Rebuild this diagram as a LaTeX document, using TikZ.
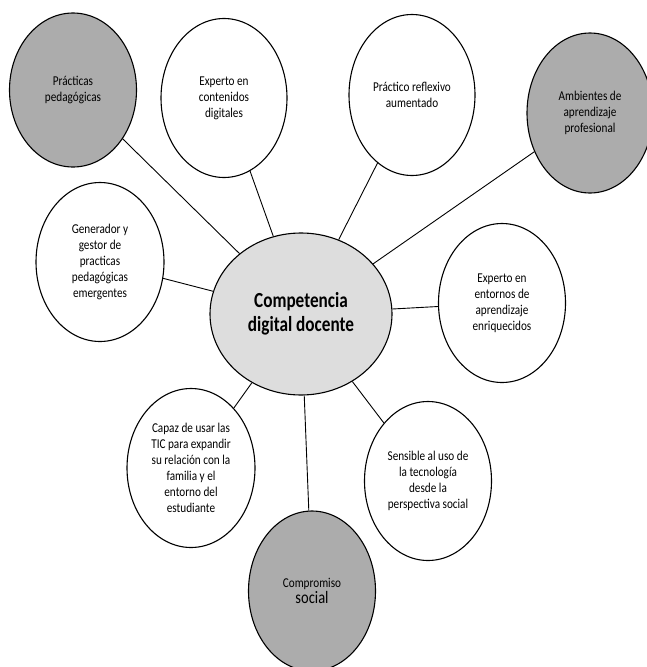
\documentclass[tikz,border=0pt]{standalone}
\usepackage{fontspec}
\setmainfont{Carlito}
\newfontfamily\narrowfont[FakeStretch=0.83]{Carlito}
\newfontfamily\hubfont[FakeStretch=0.8]{Carlito}
\usetikzlibrary{shapes.geometric}
\definecolor{darkfill}{RGB}{172,172,172}
\definecolor{lightfill}{RGB}{221,221,221}
\tikzset{
  bub/.style={ellipse, draw=black, line width=1.1pt, fill=white, minimum width=126pt, minimum height=159pt, inner sep=0pt, align=center, font=\narrowfont\fontsize{13.5}{16}\selectfont},
  darkbub/.style={bub, fill=darkfill},
  hub/.style={ellipse, draw=black, line width=1.1pt, fill=lightfill, minimum width=182pt, minimum height=162pt, inner sep=0pt, align=center, font=\hubfont\fontsize{21.5}{24}\selectfont\bfseries},
  link/.style={draw=black, line width=0.9pt}
}
\begin{document}
\begin{tikzpicture}[x=1pt,y=-1pt]
\useasboundingbox (0,0) rectangle (646,667);
\node[hub] (c) at (301,314) {Competencia\\digital docente};
\node[darkbub, minimum height=154pt, minimum width=127pt] (pp) at (73,90) {Prácticas\\pedagógicas};
\node[bub] (ec) at (224,98) {Experto en\\contenidos\\digitales};
\node[bub, minimum height=161pt] (pr) at (412,95) {Práctico reflexivo\\aumentado};
\node[darkbub, minimum height=160pt] (am) at (590,113) {Ambientes de\\aprendizaje\\profesional};
\node[bub, minimum width=128pt] (ge) at (100,262) {Generador y\\gestor de\\practicas\\pedagógicas\\emergentes};
\node[bub, minimum width=127pt] (ee) at (502,303) {Experto en\\entornos de\\aprendizaje\\enriquecidos};
\node[bub, minimum width=128pt] (ca) at (191,468) {Capaz de usar las\\TIC para expandir\\su relación con la\\familia y el\\entorno del\\estudiante};
\node[bub, minimum width=127pt] (se) at (428,481) {Sensible al uso de\\la tecnología\\desde la\\perspectiva social};
\node[darkbub, minimum width=127pt, minimum height=160pt] (co) at (312,591) {Compromiso\\{\fontsize{17.5}{19}\selectfont social}};
\path[link] (pp) -- (c);
\path[link] (ec) -- (c);
\path[link] (pr) -- (c);
\path[link] (am) -- (c);
\path[link] (ge) -- (c);
\path[link] (ee) -- (c);
\path[link] (ca) -- (c);
\path[link] (se) -- (c);
\path[link] (co) -- (c);
\end{tikzpicture}
\end{document}
